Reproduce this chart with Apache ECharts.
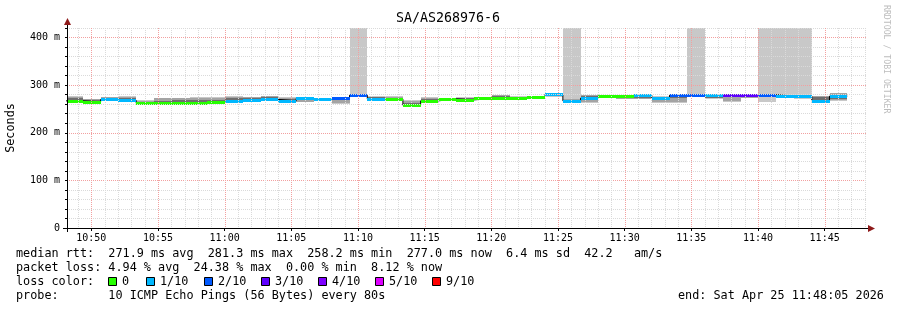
<!DOCTYPE html>
<html><head><meta charset="utf-8">
<script src="https://cdn.jsdelivr.net/npm/echarts@6/dist/echarts.min.js"></script>
<style>html,body{margin:0;padding:0;background:#fff}#c{width:897px;height:310px}</style>
</head><body><div id="c"></div>
<script>
// ---------------- data ----------------
const chartTitle = 'SA/AS268976-6';
const stepSeconds = 80;
const barStart = ['10:48:02','10:49:22','10:50:42','10:52:02','10:53:22','10:54:42','10:56:02','10:57:22','10:58:42','11:00:02',
  '11:01:22','11:02:42','11:04:02','11:05:22','11:06:42','11:08:02','11:09:22','11:10:42','11:12:02','11:13:22',
  '11:14:42','11:16:02','11:17:22','11:18:42','11:20:02','11:21:22','11:22:42','11:24:02','11:25:22','11:26:42',
  '11:28:02','11:29:22','11:30:42','11:32:02','11:33:22','11:34:42','11:36:02','11:37:22','11:38:42','11:40:02',
  '11:41:22','11:42:42','11:44:02','11:45:22'];
const medianMs = [267,265,270,268,262,262,262,262,264,267, 269,270,267,272,270,272,279,271,271,258,
  267,271,269,272,273,273,276,281,267,273, 278,278,279,274,279,280,280,280,280,280, 277,277,267,277];
const lossLevel = [0,0,1,1,0,0,0,0,0,1, 1,1,1,1,1,2,2,1,0,0, 0,0,0,0,0,0,0,1,1,1, 0,0,1,1,2,2,1,3,3,2, 1,1,1,1];
const smokeMin = [265,264,266,265,260,259,259,260,261,264, 265,266,264,264,266,260,277,268,266,254,
  262,268,267,268,268,268,272,276,265,263, 272,270,270,262,262,278,270,264,273,264, 272,270,264,267];
const smokeMax = [277,271,276,277,268,273,273,276,275,277, 276,278,275,275,273,276,450,277,277,268,
  275,274,275,276,280,277,278,284,450,280, 280,280,282,277,281,450,282,282,282,450, 450,450,278,284];
const smokeMidLo = [266,264,267,266,261,260,260,261,262,265, 266,267,265,265,267,262,278,269,267,255,
  263,268,267,269,269,269,273,277,266,264, 273,271,271,264,264,279,272,266,274,279, 276,276,265,268];
const smokeMidHi = [276,270,275,276,266,272,272,274,273,276, 275,277,273,274,272,274,281,276,276,266,
  273,273,273,275,279,276,277,283,270,279, 279,279,281,276,280,281,281,281,281,281, 278,278,277,283];
const smokeInLo = [267,265,268,267,262,261,261,262,263,268, 267,267,266,268,267,268,278,270,268,255,
  264,269,268,269,270,269,273,279,266,268, 274,272,273,270,272,279,274,276,276,279, 276,276,267,270];
const smokeInHi = [273,268,272,274,264,266,269,269,269,272, 272,275,270,273,271,273,281,275,274,262,
  270,272,272,274,278,274,276,282,269,278, 278,277,280,275,278,281,280,280,280,281, 278,278,276,280];

const lossLabels = ['0','1/10','2/10','3/10','4/10','5/10','9/10'];
const lossColors = ['#26ff00','#00b8ff','#0059ff','#5e00ff','#7e00ff','#dd00ff','#ff0000'];
const xTickLabels = ['10:50','10:55','11:00','11:05','11:10','11:15','11:20','11:25','11:30','11:35','11:40','11:45'];
const yTickValues = [0,100,200,300,400];
const yTickLabels = ['0','100 m','200 m','300 m','400 m'];
const axisStart = '10:48:10.6';
const axisEnd = '11:48:10.6';
const medianRttStats = ['271.9 ms avg','281.3 ms max','258.2 ms min','277.0 ms now','6.4 ms sd','42.2   am/s'];
const packetLossStats = ['4.94 % avg','24.38 % max','0.00 % min','8.12 % now'];
const probeText = '10 ICMP Echo Pings (56 Bytes) every 80s';
const endText = 'end: Sat Apr 25 11:48:05 2026';

// ---------------- helpers ----------------
function toSec(s){const p=s.split(':').map(Number);return p[0]*3600+p[1]*60+(p[2]||0);}
function fmt(v){const h=Math.floor(v/3600),m=Math.round((v-h*3600)/60);return String(h).padStart(2,'0')+':'+String(m).padStart(2,'0');}
const xMin = toSec(axisStart), xMax = toSec(axisEnd);
const xTickSec = xTickLabels.map(toSec);

const smokeData = barStart.map((s,i)=>[toSec(s), toSec(s)+stepSeconds, smokeMin[i], smokeMax[i], smokeMidLo[i], smokeMidHi[i], smokeInLo[i], smokeInHi[i]]);
const medianData = barStart.map((s,i)=>[toSec(s), toSec(s)+stepSeconds, medianMs[i], lossLevel[i]]);
const stepLine = barStart.map((s,i)=>[toSec(s), medianMs[i]]);
stepLine.push([toSec(barStart[barStart.length-1])+stepSeconds, medianMs[medianMs.length-1]]);

const MAJOR = '#f2a0a0', MINOR = '#dadada';
const minorTicks = [], majorTicks = [];
for (let t = Math.ceil(xMin/60)*60; t <= xMax; t += 60) {
  if (t % 300 === 0) majorTicks.push([t, 0]); else minorTicks.push([t, 0]);
}

const FONT = 'DejaVu Sans Mono';
const TXT = '11.8px ' + FONT;
const smokeColors = ['#c8c8c8','#a4a4a4','#6e6e6e'];

function clipRect(x0,y0,x1,y1,cs){
  const r = {x: Math.round(Math.min(x0,x1)), y: Math.round(Math.min(y0,y1))};
  r.width = Math.round(Math.max(x0,x1)) - r.x; r.height = Math.round(Math.max(y0,y1)) - r.y;
  return echarts.graphic.clipRectByRect(r, {x:cs.x,y:cs.y,width:cs.width,height:cs.height});
}
function vGridSeries(name, data, color){
  return {type:'custom', name:name, z:6, silent:true, data:data, encode:{x:0, y:1},
    renderItem:(params,api)=>{
      const cs=params.coordSys;
      const p=api.coord([api.value(0), 0]);
      const x=Math.round(p[0])+0.5;
      return {type:'line', shape:{x1:x,y1:cs.y,x2:x,y2:cs.y+cs.height},
        style:{stroke:color, lineWidth:1, lineDash:[1,1]}};
    }};
}

const chart = echarts.init(document.getElementById('c'), null, {renderer:'canvas'});

// legend graphics
const legendBoxX = [108,146,204,261,318,375,432];
const graphics = [
  {type:'text', x:448, y:19, style:{text:chartTitle, font:'13.3px '+FONT, fill:'#000', align:'center', verticalAlign:'middle'}},
  {type:'text', x:11, y:128, rotation:Math.PI/2, style:{text:'Seconds', font:TXT, fill:'#000', align:'center', verticalAlign:'middle'}},
  {type:'text', x:886, y:5, rotation:-Math.PI/2, style:{text:'RRDTOOL / TOBI OETIKER', font:'8.2px '+FONT, fill:'#bdbdbd', align:'left', verticalAlign:'middle'}},
  {type:'text', x:16, y:254, style:{text:'median rtt:  '+medianRttStats.join('  '), font:TXT, fill:'#000', verticalAlign:'middle'}},
  {type:'text', x:16, y:268, style:{text:'packet loss: '+packetLossStats.join('  '), font:TXT, fill:'#000', verticalAlign:'middle'}},
  {type:'text', x:16, y:282, style:{text:'loss color:', font:TXT, fill:'#000', verticalAlign:'middle'}},
  {type:'text', x:16, y:296, style:{text:'probe:       '+probeText, font:TXT, fill:'#000', verticalAlign:'middle'}},
  {type:'text', x:678, y:296, style:{text:endText, font:TXT, fill:'#000', align:'left', verticalAlign:'middle'}},
  // axes lines and arrows
  {type:'line', shape:{x1:67.5,y1:232,x2:67.5,y2:22}, style:{stroke:'#000',lineWidth:1}, z:50},
  {type:'line', shape:{x1:63,y1:228.5,x2:871,y2:228.5}, style:{stroke:'#000',lineWidth:1}, z:50},
  {type:'polygon', shape:{points:[[64,25],[71,25],[67.5,18]]}, style:{fill:'#8e1a1a'}, z:51},
  {type:'polygon', shape:{points:[[868,225],[868,232],[875,228.5]]}, style:{fill:'#8e1a1a'}, z:51}
];
lossLabels.forEach((lab,i)=>{
  graphics.push({type:'rect', shape:{x:legendBoxX[i]+0.5,y:277.5,width:8,height:8}, style:{fill:lossColors[i],stroke:'#000',lineWidth:1}});
  graphics.push({type:'text', x:legendBoxX[i]+14, y:282, style:{text:lab, font:TXT, fill:'#000', verticalAlign:'middle'}});
});

chart.setOption({
  animation:false,
  backgroundColor:'#fff',
  grid:{left:67, top:28, width:800, height:200, containLabel:false},
  xAxis:{type:'value', min:xMin, max:xMax, z:6,
    axisLine:{show:false},
    axisTick:{show:true, customValues:xTickSec, length:3, inside:false, lineStyle:{color:'#000'}},
    axisLabel:{customValues:xTickSec, formatter:fmt, fontFamily:FONT, fontSize:10, color:'#000', margin:5},
    splitLine:{show:false}},
  yAxis:{type:'value', min:0, max:420, interval:20, z:6,
    axisLine:{show:false},
    axisTick:{show:true, length:2, lineStyle:{color:'#000'}},
    axisLabel:{formatter:v=>{const i=yTickValues.indexOf(v);return i>=0?yTickLabels[i]:'';}, fontFamily:FONT, fontSize:10, color:'#000', margin:7},
    splitLine:{show:true, lineStyle:{color:[MAJOR,MINOR,MINOR,MINOR,MINOR], type:[1,1], width:1}}},
  series:[
    {type:'custom', name:'smoke', z:2, data:smokeData, encode:{x:[0,1], y:[2,3]},
      renderItem:(params,api)=>{
        const cs = params.coordSys; const x0=api.value(0), x1=api.value(1);
        const kids=[];
        [[2,3],[4,5],[6,7]].forEach((pr,j)=>{
          const a=api.coord([x0, api.value(pr[1])]), b=api.coord([x1, api.value(pr[0])]);
          const r=clipRect(a[0],a[1],b[0],b[1],cs);
          if(r && r.width>0 && r.height>0) kids.push({type:'rect', shape:r, style:{fill:smokeColors[j]}});
        });
        return {type:'group', children:kids};
      }},
    {type:'line', name:'median line', z:3, data:stepLine, step:'end', symbol:'none', clip:true,
      lineStyle:{color:'#000', width:1}},
    {type:'custom', name:'median', z:4, data:medianData, encode:{x:[0,1], y:2},
      renderItem:(params,api)=>{
        const cs=params.coordSys;
        const a=api.coord([api.value(0), api.value(2)]), b=api.coord([api.value(1), api.value(2)]);
        const yc=Math.round(a[1]);
        const r=clipRect(a[0], yc-1, b[0], yc+2, cs);
        if(!r) return null;
        return {type:'rect', shape:r, style:{fill:lossColors[api.value(3)]}};
      }},
    vGridSeries('minor grid', minorTicks, MINOR),
    vGridSeries('major grid', majorTicks, MAJOR)
  ],
  graphic:graphics
});
</script>
</body></html>
